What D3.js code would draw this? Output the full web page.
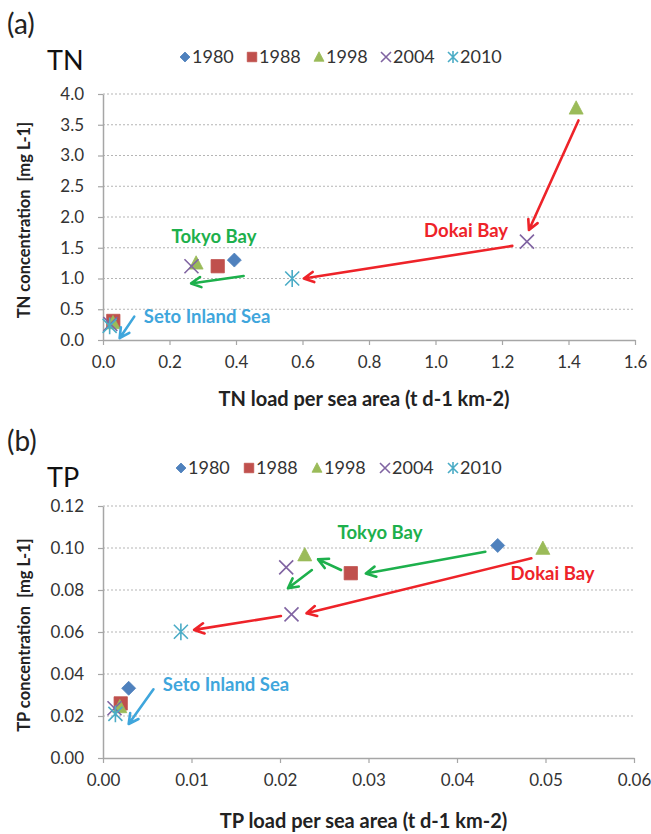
<!DOCTYPE html>
<html><head><meta charset="utf-8">
<script src="https://cdn.jsdelivr.net/npm/d3@7/dist/d3.min.js"></script>
<style>body{margin:0;background:#fff}svg{display:block}</style>
</head><body>
<svg id="chart" width="651" height="834"></svg>
<script>
// ---------- DATA ----------
const years = ["1980", "1988", "1998", "2004", "2010"];

// TN panel (x: t d-1 km-2, y: mg L-1)
const tn1980 = [[0.395, 1.30]];
const tn1988 = [[0.345, 1.20], [0.031, 0.31]];
const tn1998 = [[1.423, 3.77], [0.280, 1.25], [0.030, 0.28]];
const tn2004 = [[1.275, 1.60], [0.266, 1.20], [0.022, 0.26]];
const tn2010 = [[0.569, 1.00], [0.020, 0.23]];
const tnXTicks = [0, 0.2, 0.4, 0.6, 0.8, 1.0, 1.2, 1.4, 1.6];
const tnYTicks = [0, 0.5, 1.0, 1.5, 2.0, 2.5, 3.0, 3.5, 4.0];
const tnArrows = [
  ["red",   [1.430, 3.57], [1.281, 1.79]],
  ["red",   [1.231, 1.53], [0.604, 1.00]],
  ["green", [0.423, 1.04], [0.265, 0.92]],
  ["blue",  [0.094, 0.38], [0.050, 0.03]]
];
const tnNotes = [
  ["green", "Tokyo Bay", [0.334, 1.69]],
  ["red", "Dokai Bay", [1.092, 1.79]],
  ["blue", "Seto Inland Sea", [0.313, 0.39]]
];

// TP panel
const tp1980 = [[0.0446, 0.1012], [0.0029, 0.0332]];
const tp1988 = [[0.0280, 0.0880], [0.0020, 0.0260]];
const tp1998 = [[0.0497, 0.0998], [0.0228, 0.0967], [0.0019, 0.0244]];
const tp2004 = [[0.0207, 0.0908], [0.0213, 0.0684], [0.0013, 0.0237]];
const tp2010 = [[0.0088, 0.0601], [0.0014, 0.0210]];
const tpXTicks = [0, 0.01, 0.02, 0.03, 0.04, 0.05, 0.06];
const tpYTicks = [0, 0.02, 0.04, 0.06, 0.08, 0.10, 0.12];
const tpArrows = [
  ["green", [0.0432, 0.0982], [0.0297, 0.0879]],
  ["green", [0.0269, 0.0895], [0.0243, 0.0946]],
  ["green", [0.0236, 0.0895], [0.0209, 0.0808]],
  ["red",   [0.0484, 0.0951], [0.0230, 0.0689]],
  ["red",   [0.0201, 0.0676], [0.0103, 0.0610]],
  ["blue",  [0.0057, 0.0327], [0.0029, 0.0162]]
];
const tpNotes = [
  ["green", "Tokyo Bay", [0.0313, 0.1076]],
  ["red", "Dokai Bay", [0.0508, 0.0881]],
  ["blue", "Seto Inland Sea", [0.0139, 0.0352]]
];

// ---------- STYLE ----------
const seriesColor = {"1980": "#4F81BD", "1988": "#C0504D", "1998": "#9BBB59", "2004": "#8064A2", "2010": "#4BACC6"};
const seriesShape = {"1980": "diamond", "1988": "square", "1998": "triangle", "2004": "x", "2010": "star"};
const noteColor = {red: "#EE2329", green: "#1DB04C", blue: "#3FA6DC"};
const FONT = "Lato, 'Open Sans', sans-serif";

const svg = d3.select("#chart");

function markerPath(shape, s) {
  const p = d3.path();
  if (shape === "diamond") { p.moveTo(0, -s); p.lineTo(s, 0); p.lineTo(0, s); p.lineTo(-s, 0); p.closePath(); }
  else if (shape === "square") { p.rect(-s * 0.95, -s * 0.95, s * 1.9, s * 1.9); }
  else if (shape === "triangle") { p.moveTo(0, -s * 1.05); p.lineTo(s, s * 0.85); p.lineTo(-s, s * 0.85); p.closePath(); }
  else if (shape === "x") { p.moveTo(-s, -s); p.lineTo(s, s); p.moveTo(-s, s); p.lineTo(s, -s); }
  else if (shape === "star") { p.moveTo(-s, -s); p.lineTo(s, s); p.moveTo(-s, s); p.lineTo(s, -s); p.moveTo(0, -s * 1.2); p.lineTo(0, s * 1.2); }
  return p.toString();
}
function drawMarker(g, yr, x, y, s) {
  const shape = seriesShape[yr], c = seriesColor[yr];
  const open = shape === "x" || shape === "star";
  g.append("path").attr("transform", `translate(${x},${y})`)
    .attr("d", markerPath(shape, s))
    .attr("fill", open ? "none" : c)
    .attr("stroke", c).attr("stroke-width", open ? 1.6 : 0.8);
}

function panel(cfg) {
  const {letter, name, top, plot, xDom, yDom, xTicks, yTicks, xFmt, yFmt, series, arrows, notes, xTitle, yTitle, xTitleY, legendY, legendX, legendStep} = cfg;
  const g = svg.append("g");
  const x = d3.scaleLinear().domain(xDom).range([plot.l, plot.r]);
  const y = d3.scaleLinear().domain(yDom).range([plot.b, plot.t]);

  g.append("text").attr("x", 7).attr("y", top + 34).attr("font-family", FONT).attr("font-size", 28).attr("fill", "#222").text(letter);
  g.append("text").attr("x", 47).attr("y", top + 70).attr("font-family", FONT).attr("font-size", 27).attr("fill", "#111").text(name);

  // legend
  years.forEach((yr, i) => {
    const lx = legendX + i * legendStep;
    drawMarker(g, yr, lx, legendY, 5);
    g.append("text").attr("x", lx + 7).attr("y", legendY).attr("dy", "0.36em")
      .attr("font-family", FONT).attr("font-size", 18).attr("fill", "#333").text(yr);
  });

  // gridlines
  g.append("g").selectAll("line").data(yTicks.filter(v => v !== 0)).join("line")
    .attr("x1", plot.l).attr("x2", plot.r).attr("y1", d => y(d)).attr("y2", d => y(d))
    .attr("stroke", "#B5B5B5").attr("stroke-width", 1).attr("stroke-dasharray", "2,2");

  // axes
  const xa = g.append("g").attr("transform", `translate(0,${plot.b})`)
    .call(d3.axisBottom(x).tickValues(xTicks).tickFormat(xFmt).tickSize(5).tickSizeOuter(0));
  const ya = g.append("g").attr("transform", `translate(${plot.l},0)`)
    .call(d3.axisLeft(y).tickValues(yTicks).tickFormat(yFmt).tickSize(5).tickSizeOuter(0));
  [xa, ya].forEach(a => {
    a.select(".domain").attr("stroke", "#A6A6A6").attr("stroke-width", 1.5);
    a.selectAll(".tick line").attr("stroke", "#A6A6A6").attr("stroke-width", 1.2);
    a.selectAll(".tick text").attr("font-family", FONT).attr("font-size", 17).attr("fill", "#333");
  });
  xa.selectAll(".tick text").attr("dy", "1.2em");
  ya.selectAll(".tick text").attr("x", -19);

  // axis titles
  g.append("text").attr("x", (plot.l + plot.r) / 2 - 5).attr("y", xTitleY)
    .attr("text-anchor", "middle").attr("font-family", FONT).attr("font-weight", "bold")
    .attr("font-size", 20).attr("fill", "#222").text(xTitle);
  g.append("text").attr("transform", `translate(30,${(plot.t + plot.b) / 2 + 3}) rotate(-90)`)
    .attr("text-anchor", "middle").attr("font-family", FONT).attr("font-weight", "bold")
    .attr("font-size", 16.5).attr("fill", "#222").attr("xml:space", "preserve").text(yTitle);

  // points
  years.forEach((yr, i) => {
    series[i].forEach(pt => drawMarker(g, yr, x(pt[0]), y(pt[1]), 7));
  });

  // arrows
  arrows.forEach(([c, from, to]) => {
    const x1 = x(from[0]), y1 = y(from[1]), x2 = x(to[0]), y2 = y(to[1]);
    const ang = Math.atan2(y2 - y1, x2 - x1);
    const L = 11, a = Math.PI / 6.5;
    const p = d3.path();
    p.moveTo(x1, y1); p.lineTo(x2, y2);
    p.moveTo(x2 - L * Math.cos(ang - a), y2 - L * Math.sin(ang - a));
    p.lineTo(x2, y2);
    p.lineTo(x2 - L * Math.cos(ang + a), y2 - L * Math.sin(ang + a));
    g.append("path").attr("d", p.toString()).attr("fill", "none")
      .attr("stroke", noteColor[c]).attr("stroke-width", 2.6).attr("stroke-linecap", "round").attr("stroke-linejoin", "round");
  });

  // notes
  notes.forEach(([c, txt, pos]) => {
    g.append("text").attr("x", x(pos[0])).attr("y", y(pos[1])).attr("dy", "0.36em")
      .attr("text-anchor", "middle").attr("font-family", FONT).attr("font-weight", "bold")
      .attr("font-size", 18.5).attr("fill", noteColor[c]).text(txt);
  });
}

panel({
  letter: "(a)", name: "TN", top: 0,
  plot: {l: 103, r: 635, t: 94, b: 340},
  xDom: [0, 1.6], yDom: [0, 4.0], xTicks: tnXTicks, yTicks: tnYTicks,
  xFmt: d3.format(".1f"), yFmt: d3.format(".1f"),
  series: [tn1980, tn1988, tn1998, tn2004, tn2010],
  arrows: tnArrows, notes: tnNotes,
  xTitle: "TN load per sea area (t d-1 km-2)", yTitle: "TN concentration  [mg L-1]", xTitleY: 406,
  legendY: 57, legendX: 185, legendStep: 67
});
panel({
  letter: "(b)", name: "TP", top: 417,
  plot: {l: 103, r: 634, t: 506, b: 758},
  xDom: [0, 0.06], yDom: [0, 0.12], xTicks: tpXTicks, yTicks: tpYTicks,
  xFmt: d3.format(".2f"), yFmt: d3.format(".2f"),
  series: [tp1980, tp1988, tp1998, tp2004, tp2010],
  arrows: tpArrows, notes: tpNotes,
  xTitle: "TP load per sea area (t d-1 km-2)", yTitle: "TP concentration  [mg L-1]", xTitleY: 828,
  legendY: 468, legendX: 181, legendStep: 68
});
</script>
</body></html>
